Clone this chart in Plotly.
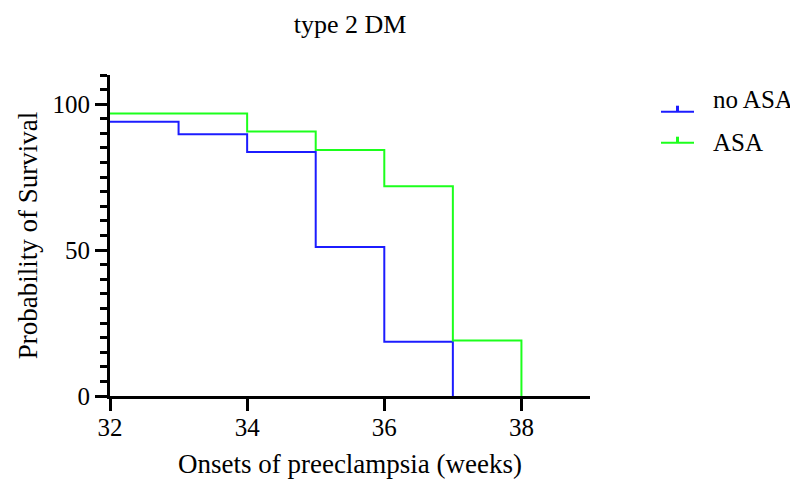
import plotly.graph_objects as go

no_asa_weeks = [32, 33, 34, 35, 36, 37]
no_asa = [94.0, 89.7, 83.6, 51.1, 18.6, 0.0]
asa_weeks = [32, 33, 34, 35, 36, 37, 38]
asa = [96.8, 96.8, 90.6, 84.3, 71.9, 19.0, 0.0]
x_ticks = [32, 34, 36, 38]
y_ticks = [0, 50, 100]

FF = "Liberation Serif"
BLUE = "#1c1cff"
GREEN = "#1cff1c"

# The page body has an 8px margin: figure sized to fit inside the 798x487 window
OFF = 8
W, H = 798 - OFF, 487 - 2 * OFF
PL, PR, PT, PB = 110, 590, 75, 396  # plot area in window pixels
L = PL - OFF
T = PT - OFF
pw = PR - PL
ph = PB - PT
R = W - L - pw
B = H - T - ph


def px(xw):
    return (xw - OFF - L) / pw


def py(yw):
    return (H - B - (yw - OFF)) / ph


fig = go.Figure()
fig.add_trace(go.Scatter(x=no_asa_weeks, y=no_asa, mode="lines",
                         line=dict(shape="hv", color=BLUE, width=2), name="no ASA", showlegend=False))
fig.add_trace(go.Scatter(x=asa_weeks, y=asa, mode="lines",
                         line=dict(shape="hv", color=GREEN, width=2), name="ASA", showlegend=False))

# manual legend (window pixel positions)
legend_items = [("no ASA", BLUE, 111.7, 99.0), ("ASA", GREEN, 142.7, 142.5)]
for label, col, yl, yt in legend_items:
    fig.add_shape(type="line", xref="paper", yref="paper", x0=px(661), x1=px(694), y0=py(yl), y1=py(yl),
                  line=dict(color=col, width=2))
    fig.add_shape(type="line", xref="paper", yref="paper", x0=px(677.5), x1=px(677.5), y0=py(yl), y1=py(yl - 6),
                  line=dict(color=col, width=3))
    fig.add_annotation(xref="paper", yref="paper", x=px(712), y=py(yt), text=label, showarrow=False,
                       xanchor="left", yanchor="middle", borderpad=0,
                       font=dict(family=FF, size=25, color="black"))

fig.update_layout(
    width=W, height=H,
    margin=dict(l=L, r=R, t=T, b=B, pad=0),
    paper_bgcolor="white", plot_bgcolor="white",
    font=dict(family=FF, size=25, color="black"),
    title=dict(text="type 2 DM", x=((PL + PR) / 2 - OFF) / W, xanchor="center",
               y=1 - (24 - OFF) / H, yanchor="middle", yref="container",
               font=dict(family=FF, size=26, color="black")),
    xaxis=dict(range=[32, 39], showline=True, linecolor="black", linewidth=3, showgrid=False, zeroline=False,
               automargin=False,
               tickmode="array", tickvals=x_ticks, ticks="outside", ticklen=12, tickwidth=3,
               tickcolor="black", tickfont=dict(family=FF, size=25, color="black"), ticklabelstandoff=-5,
               title=dict(text="Onsets of preeclampsia (weeks)", font=dict(family=FF, size=27, color="black"),
                          standoff=16)),
    yaxis=dict(range=[0, 110], showline=True, linecolor="black", linewidth=3, showgrid=False, zeroline=False,
               automargin=False,
               tickmode="array", tickvals=y_ticks, ticks="outside", ticklen=12, tickwidth=3,
               tickcolor="black", tickfont=dict(family=FF, size=25, color="black"),
               minor=dict(tickmode="linear", tick0=0, dtick=5, ticks="outside", ticklen=7, tickwidth=2.5,
                          tickcolor="black", showgrid=False),
               title=dict(text="Probability of Survival", font=dict(family=FF, size=27, color="black"),
                          standoff=8)),
)

fig.write_html("out.html")
